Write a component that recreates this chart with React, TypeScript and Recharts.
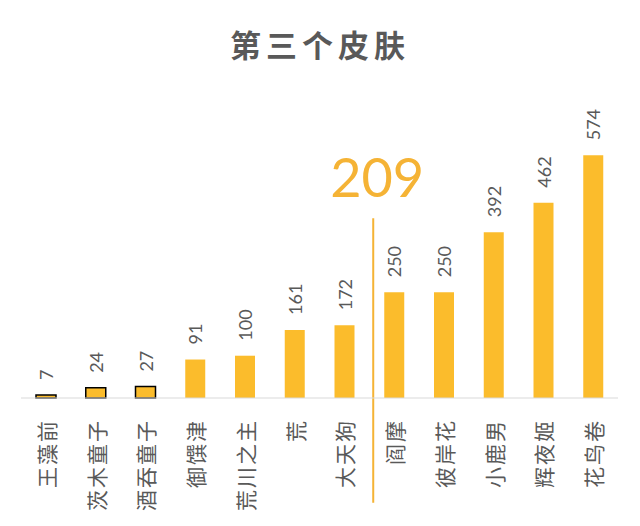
import { Bar, BarChart, Cell, LabelList, ReferenceLine, XAxis, YAxis } from "recharts";

const SKINS = ["王藻前", "茨木童子", "酒吞童子", "御馔津", "荒川之主", "荒", "大天狗", "阎摩", "彼岸花", "小鹿男", "辉夜姬", "花鸟卷"];
const COUNTS = [7, 24, 27, 91, 100, 161, 172, 250, 250, 392, 462, 574];
const OUTLINED = ["王藻前", "茨木童子", "酒吞童子"];
const AVERAGE = 209;
const AVERAGE_POS = 7.08;
const AVERAGE_SPAN = [425, -248];

const BAR_COLOR = "#FBBC2C";
const LINE_COLOR = "#F5B335";
const TEXT_GRAY = "#595959";

const data = SKINS.map((name, i) => ({ name, count: COUNTS[i] }));

function CategoryTick(props: any) {
  const { x, payload } = props;
  return (
    <text
      transform={`translate(${x}, 419) rotate(-90)`}
      textAnchor="end"
      dominantBaseline="central"
      fill={TEXT_GRAY}
      fontSize={21}
      letterSpacing={2}
      fontFamily="'Noto Sans CJK SC', sans-serif"
    >
      {payload.value}
    </text>
  );
}

function ValueLabel(props: any) {
  const { x, y, width, value } = props;
  const cx = Number(x) + Number(width) / 2;
  return (
    <text
      transform={`translate(${cx}, ${Number(y) - 15}) rotate(-90)`}
      textAnchor="start"
      dominantBaseline="central"
      fill={TEXT_GRAY}
      fontSize={18}
      fontFamily="Lato, sans-serif"
    >
      {value}
    </text>
  );
}

export default function App() {
  return (
    <div style={{ position: "absolute", left: 0, top: 0, width: 640, height: 526, background: "#fff" }}>
      <div
        style={{
          position: "absolute",
          left: 0,
          top: 26,
          width: 640,
          textAlign: "center",
          fontFamily: "'Noto Sans CJK SC', sans-serif",
          fontWeight: 700,
          fontSize: 31,
          letterSpacing: 5,
          color: TEXT_GRAY,
          lineHeight: "36px",
        }}
      >
        第三个皮肤
      </div>
      <BarChart width={640} height={526} data={data} margin={{ top: 102, right: 22, bottom: 0, left: 21 }}>
        <XAxis
          dataKey="name"
          height={128}
          interval={0}
          axisLine={{ stroke: "#D9D9D9" }}
          tickLine={false}
          tick={<CategoryTick />}
        />
        <XAxis
          xAxisId="avg"
          dataKey="avgPos"
          type="number"
          domain={[0, SKINS.length]}
          allowDataOverflow
          hide
        />
        <YAxis domain={[0, 700]} hide />
        <Bar dataKey="count" barSize={20} fill={BAR_COLOR} isAnimationActive={false}>
          {data.map((d) => (
            <Cell
              key={d.name}
              fill={BAR_COLOR}
              stroke={OUTLINED.includes(d.name) ? "#000" : "none"}
              strokeWidth={1.5}
            />
          ))}
          <LabelList dataKey="count" content={<ValueLabel />} />
        </Bar>
        <ReferenceLine
          xAxisId="avg"
          segment={[
            { x: AVERAGE_POS, y: AVERAGE_SPAN[0] },
            { x: AVERAGE_POS, y: AVERAGE_SPAN[1] },
          ]}
          ifOverflow="visible"
          stroke={LINE_COLOR}
          strokeWidth={2}
          label={(props: any) => {
            const vb = props.viewBox || {};
            return (
              <text
                x={Number(vb.x) + 4}
                y={Number(vb.y) - 21}
                textAnchor="middle"
                fill={LINE_COLOR}
                fontSize={54}
                fontFamily="Lato, sans-serif"
              >
                {AVERAGE}
              </text>
            );
          }}
        />
      </BarChart>
    </div>
  );
}
